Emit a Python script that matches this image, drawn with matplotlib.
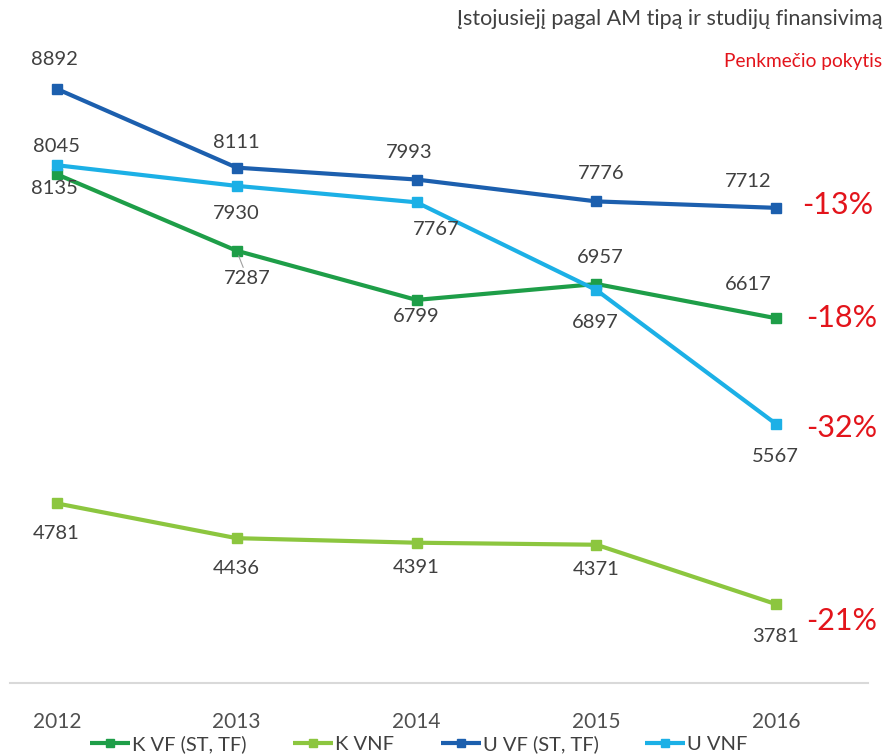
import matplotlib
matplotlib.use("Agg")
import matplotlib.pyplot as plt

plt.rcParams['font.family'] = ['Lato', 'DejaVu Sans']

years = [2012, 2013, 2014, 2015, 2016]

k_vf = [8045, 7287, 6799, 6957, 6617]
k_vnf = [4781, 4436, 4391, 4371, 3781]
u_vf = [8892, 8111, 7993, 7776, 7712]
u_vnf = [8135, 7930, 7767, 6897, 5567]

series_names = ["K VF (ST, TF)", "K VNF", "U VF (ST, TF)", "U VNF"]
changes = ["-18%", "-21%", "-13%", "-32%"]

title = "Įstojusiejį pagal AM tipą ir studijų finansivimą"
subtitle = "Penkmečio pokytis"

colors = ["#1e9e48", "#8cc63f", "#1c5fae", "#1cb0e6"]
text_gray = "#404040"
red = "#e3141b"

# label offsets in pixels (dx, dy) for each point, per series
offsets = [
    [(0, 28), (11, -28), (0, -17), (4, 26), (-28, 34)],
    [(-1, -30), (0, -30), (0, -25), (0, -25), (-1, -32)],
    [(-2, 29), (0, 25), (-7, 27), (5, 28), (-28, 26)],
    [(-2, -23), (0, -28), (20, -27), (-1, -32), (-1, -32)],
]
change_offsets = [(30, 0), (30, -17), (26, 3), (30, -4)]

fig = plt.figure(figsize=(8.93, 7.55), dpi=100)
ax = fig.add_axes([0.0112, 0.0954, 0.9608, 0.8013])

all_series = [k_vf, k_vnf, u_vf, u_vnf]
for vals, name, col in zip(all_series, series_names, colors):
    ax.plot(years, vals, color=col, lw=3, marker="s", markersize=7,
            label=name, solid_capstyle="butt", zorder=3)

for s, vals in enumerate(all_series):
    for i, (x, v) in enumerate(zip(years, vals)):
        dx, dy = offsets[s][i]
        props = None
        if s == 0 and i == 1:
            props = dict(arrowstyle="-", color="#a0a0a0", lw=0.8,
                         shrinkA=0, shrinkB=4)
        ax.annotate(str(v), (x, v), xytext=(dx, dy), textcoords="offset pixels",
                    ha="center", va="center", fontsize=14.5, color=text_gray,
                    arrowprops=props, zorder=4)
    ax.annotate(changes[s], (years[-1], vals[-1]), xytext=change_offsets[s],
                textcoords="offset pixels", ha="left", va="center",
                fontsize=22, color=red)

ax.set_xlim(2011.74, 2016.51)
ax.set_ylim(3000, 9000)
ax.set_yticks([])
ax.set_xticks(years)
ax.set_xticklabels([str(y) for y in years])
ax.tick_params(axis="x", length=0, pad=21, labelsize=15, labelcolor="#505050")
for side in ["top", "left", "right"]:
    ax.spines[side].set_visible(False)
ax.spines["bottom"].set_color("#d9d9d9")
ax.spines["bottom"].set_linewidth(1.5)

fig.text(0.9877, 0.975, title, ha="right", va="center", fontsize=15.5, color="#404040")
fig.text(0.9877, 0.918, subtitle, ha="right", va="center", fontsize=13.8, color=red)

fig.legend(loc="center", bbox_to_anchor=(0.469, 0.0146), ncol=4, frameon=False,
           fontsize=14.5, handlelength=2.0, handletextpad=0.1, columnspacing=2.3,
           labelcolor="#404040", markerscale=0.8)

plt.savefig("out.png", dpi=100)
